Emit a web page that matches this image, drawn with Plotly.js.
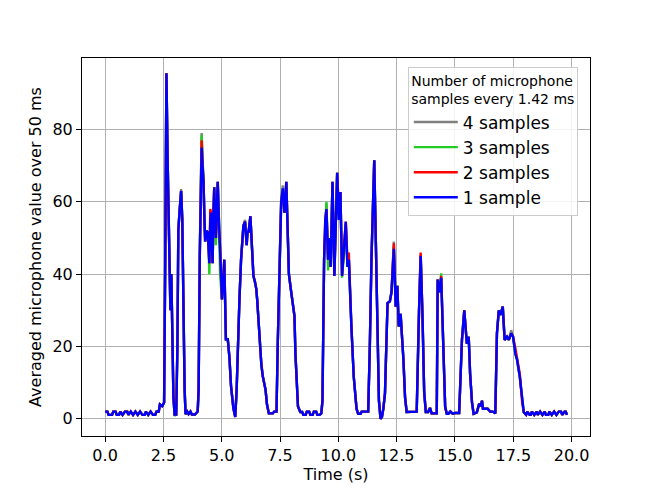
<!DOCTYPE html>
<html>
<head>
<meta charset="utf-8">
<script src="https://cdn.plot.ly/plotly-3.0.1.min.js"></script>
<style>html,body{margin:0;padding:0;background:#fff;}#chart{width:653px;height:490px;}</style>
</head>
<body>
<div id="chart"></div>
<script>
// Time (s) of each averaged sample
const time = [
0.00,0.10,0.15,0.30,0.35,0.45,0.50,0.60,0.65,0.75,
0.85,0.95,1.00,1.10,1.20,1.30,1.40,1.50,1.60,1.70,
1.75,1.85,1.95,2.05,2.15,2.20,2.30,2.35,2.45,2.53,
2.58,2.63,2.68,2.73,2.77,2.80,2.84,2.88,2.93,2.98,
3.05,3.10,3.14,3.20,3.26,3.31,3.36,3.41,3.45,3.52,
3.58,3.66,3.72,3.85,3.97,4.01,4.06,4.10,4.14,4.18,
4.22,4.26,4.29,4.34,4.40,4.44,4.47,4.51,4.54,4.58,
4.61,4.65,4.68,4.72,4.75,4.80,4.83,4.88,4.93,5.01,
5.07,5.11,5.18,5.26,5.33,5.40,5.50,5.58,5.64,5.69,
5.76,5.83,5.93,6.00,6.07,6.11,6.15,6.23,6.30,6.36,
6.42,6.48,6.52,6.62,6.70,6.76,6.82,6.88,6.94,7.02,
7.10,7.19,7.25,7.35,7.40,7.48,7.55,7.62,7.69,7.77,
7.82,7.88,7.98,8.06,8.12,8.16,8.20,8.27,8.37,8.45,
8.50,8.60,8.65,8.75,8.80,8.90,8.95,9.05,9.10,9.20,
9.27,9.32,9.39,9.44,9.49,9.56,9.63,9.67,9.75,9.83,
9.95,10.02,10.09,10.16,10.25,10.32,10.39,10.45,10.56,10.62,
10.66,10.78,10.85,10.95,11.00,11.10,11.20,11.28,11.35,11.42,
11.54,11.64,11.74,11.81,11.87,11.93,12.00,12.11,12.21,12.28,
12.38,12.46,12.53,12.59,12.67,12.79,12.86,12.93,13.05,13.15,
13.25,13.36,13.46,13.53,13.61,13.68,13.75,13.85,13.93,14.00,
14.10,14.22,14.26,14.34,14.41,14.48,14.58,14.65,14.72,14.80,
14.90,15.00,15.10,15.18,15.30,15.40,15.51,15.59,15.65,15.73,
15.80,15.94,16.04,16.10,16.16,16.20,16.30,16.40,16.51,16.62,
16.73,16.80,16.88,16.95,17.05,17.13,17.23,17.31,17.41,17.49,
17.59,17.66,17.78,17.88,17.95,18.05,18.10,18.20,18.25,18.30,
18.40,18.50,18.55,18.65,18.75,18.85,18.90,19.00,19.05,19.15,
19.25,19.35,19.45,19.55,19.60,19.70,19.75,19.80];

const samples4 = [
2.0,2.0,1.1,1.1,2.0,2.0,1.1,1.1,2.0,1.1,
2.0,2.0,1.1,2.0,1.1,2.0,1.1,2.0,1.1,1.1,
2.0,1.1,2.0,1.1,1.1,2.0,2.0,4.0,3.5,4.5,
45,95.5,72,50,41,31,40,25,6,1.2,
1.2,20,53,58,63.5,55,30,8,1.3,2.0,
1.3,2.0,1.2,1.2,2.0,8,46,70,79,71,
66,55,50,52,51.5,47,43,55,55,48,
44,58,64,55,50,60,65,55,47,33,
38,43,22,22,17,9,3,0.5,8,21,
33,44,53.4,55,48,52,51.5,56,45,39.5,
38,36,33,21,15,11.8,10,8,4,1.5,
1.5,1.5,2.0,2.0,20,45,61,64.5,57,65,
52,40,35,31,28.4,18,11,3.4,1.9,1.9,
1.1,1.1,2.0,2.0,1.1,1.1,2.0,2.0,1.1,1.1,
1.5,5,44,55,59.5,44,50,42,65,40,
68,57,62.7,40,48,54,43,44,25.6,18,
11.7,2.8,1.4,1.4,2.0,2.0,2.0,2.0,20,44,
71.5,35,5,0,0.5,2.8,7,32,32.5,35,
49,31,37,25.5,29,16.4,6,1.9,1.9,1.9,
1.9,2.0,30,45.5,28,7.4,1.9,1.9,3.0,1.5,
1.5,1.5,38.5,36.5,39,25.5,3.3,1.4,1.4,2.0,
1.4,1.6,1.6,1.6,21.8,30,20.8,22.7,12.5,4.6,
1.4,1.8,4.2,3.5,5,2.8,2.8,2.8,2,2,
1.5,23.6,30,28.7,31,21.8,22.7,22,24.5,22.7,
18,16.4,11.6,4.6,1.8,1.1,2.0,1.1,1.1,2.0,
1.1,2.0,1.1,2.0,1.1,2.0,1.1,1.1,2.0,1.1,
2.0,1.1,2.0,2.0,1.1,2.0,2.0,1.1];

const samples3 = [
2.0,2.0,1.1,1.1,2.0,2.0,1.1,1.1,2.0,1.1,
2.0,2.0,1.1,2.0,1.1,2.0,1.1,2.0,1.1,1.1,
2.0,1.1,2.0,1.1,1.1,2.0,2.0,4.0,3.5,4.5,
45,95.5,72,50,41,30,40,25,6,0.8,
1.2,20,52,58,63,55,30,8,1.3,2.0,
1.3,2.0,1.2,1.2,2.0,8,46,69,78.5,71,
66,55,49,52,51.5,46,40,54,56,45,
43,58,64,55,48,60,65.5,55,40,33,
38,44,22,22,17,9,3,0.5,8,21,
33,44,53.4,54.5,48,52,51.5,56,45,39.5,
38,36,33,21,15,11.8,10,8,4,1.5,
1.5,1.5,2.0,2.0,20,44,60,63.5,57,65.5,
52,40,35,31,28.4,18,11,3.4,1.9,1.9,
1.1,1.1,2.0,2.0,1.1,1.1,2.0,2.0,1.1,1.1,
1.5,5,44,55,60,41,50,42,65.5,39.5,
68,55,62.7,39,48,52,42,44,25.6,18,
11.7,2.8,1.4,1.4,2.0,2.0,2.0,2.0,20,44,
71.5,35,5,0,0.5,2.8,7,32,32.5,35,
47.5,31,36.7,25.5,29,16.4,6,1.9,1.9,1.9,
1.9,2.0,30,45,28,7.4,1.9,1.9,3.0,1.5,
1.5,1.5,38.5,35,40.2,25.5,3.3,1.4,1.4,2.0,
1.4,1.6,1.6,1.6,21.8,30,20.8,22.7,12.5,4.6,
1.4,1.8,4.2,3.5,5,2.8,2.8,2.8,2,2,
1.5,23.6,30,28.7,31,21.8,22.7,21.8,23.6,22.7,
18,16.4,11.6,4.6,1.8,1.1,2.0,1.1,1.1,2.0,
1.1,2.0,1.1,2.0,1.1,2.0,1.1,1.1,2.0,1.1,
2.0,1.1,2.0,2.0,1.1,2.0,2.0,1.5];

const samples2 = [
2.0,2.0,1.1,1.1,2.0,2.0,1.1,1.1,2.0,1.1,
2.0,2.0,1.1,2.0,1.1,2.0,1.1,2.0,1.1,1.1,
2.0,1.1,2.0,1.1,1.1,2.0,2.0,4.0,3.5,4.5,
45,95.5,72,50,41,30,40,25,6,1.2,
1.2,20,52,58,63,55,30,8,1.3,2.0,
1.3,2.0,1.2,1.2,2.0,8,45,68,77,70,
65.5,55,49,52,51.5,47,43,58,57,48,
43,58,64,55,50,60,65.5,52,48,33,
38,44,22,22,17,9,3,0.5,8,21,
33,44,53.4,54.5,48,52,51.5,56,45,39.5,
38,36,33,21,15,11.8,10,8,4,1.5,
1.5,1.5,2.0,2.0,20,44,60,63,57,65.5,
52,40,35,31,28.4,18,11,3.4,1.9,1.9,
1.1,1.1,2.0,2.0,1.1,1.1,2.0,2.0,1.1,1.1,
1.5,5,44,55,58,44,50,42,65.5,39.5,
68,58,62.7,39.5,48,54.5,44,46,25.6,18,
11.7,2.8,1.4,1.4,2.0,2.0,2.0,2.0,20,44,
71.5,35,5,0,0.5,2.8,7,32,32.5,35,
48.5,31,36.7,25.5,29,16.4,6,1.9,1.9,1.9,
1.9,2.0,30,46,28,7.4,1.9,1.9,3.0,1.5,
1.5,1.5,38.5,35,39.5,25.5,3.3,1.4,1.4,2.0,
1.4,1.6,1.6,1.6,21.8,30,20.8,22.7,12.5,4.6,
1.4,1.8,4.2,3.5,5,2.8,2.8,2.8,2,2,
1.5,23.6,30,28.7,31,21.8,22.7,21.8,23.6,22.7,
19.5,16.4,12.5,4.6,1.8,1.1,2.0,1.1,1.1,2.0,
1.1,2.0,1.1,2.0,1.1,2.0,1.1,1.1,2.0,1.1,
2.0,1.1,2.0,2.0,1.1,2.0,2.0,1.1];

const samples1 = [
2.0,2.0,1.1,1.1,2.0,2.0,1.1,1.1,2.0,1.1,
2.0,2.0,1.1,2.0,1.1,2.0,1.1,2.0,1.1,1.1,
2.0,1.1,2.0,1.1,1.1,2.0,2.0,4.0,3.5,4.5,
45,95.5,72,50,41,30,40,25,6,1.2,
1.2,20,52,58,63,55,30,8,1.3,2.0,
1.3,2.0,1.2,1.2,2.0,8,45,68,75,70,
65.5,55,49,52,51.5,47,43,55,57,48,
43,58,64,55,50,60,65.5,55,48,33,
38,44,22,22,17,9,3,0.5,8,21,
33,44,53.4,54.5,48,52,51.5,56,45,39.5,
38,36,33,21,15,11.8,10,8,4,1.5,
1.5,1.5,2.0,2.0,20,44,60,63.7,57,65.5,
52,40,35,31,28.4,18,11,3.4,1.9,1.9,
1.1,1.1,2.0,2.0,1.1,1.1,2.0,2.0,1.1,1.1,
1.5,5,44,55,58,44,50,42,65.5,39.5,
68,55,62.7,39.5,48,54.5,42,44,25.6,18,
11.7,2.8,1.4,1.4,2.0,2.0,2.0,2.0,20,44,
71.5,35,5,0,0.5,2.8,7,32,32.5,35,
47,31,36.7,25.5,29,16.4,6,1.9,1.9,1.9,
1.9,2.0,30,45,28,7.4,1.9,1.9,3.0,1.5,
1.5,1.5,38.5,35,39,25.5,3.3,1.4,1.4,2.0,
1.4,1.6,1.6,1.6,21.8,30,20.8,22.7,12.5,4.6,
1.4,1.8,4.2,3.5,5,2.8,2.8,2.8,2,2,
1.5,23.6,30,28.7,31,21.8,22.7,21.8,23.6,22.7,
18,16.4,11.6,4.6,1.8,1.1,2.0,1.1,1.1,2.0,
1.1,2.0,1.1,2.0,1.1,2.0,1.1,1.1,2.0,1.1,
2.0,1.1,2.0,2.0,1.1,2.0,2.0,1.1];

const seriesNames = ['4 samples', '3 samples', '2 samples', '1 sample'];
const seriesValues = [samples4, samples3, samples2, samples1];
const seriesColors = ['#808080', '#22cc22', '#ff0000', '#0000ff'];
const xTicks = [0, 2.5, 5, 7.5, 10, 12.5, 15, 17.5, 20];
const yTicks = [0, 20, 40, 60, 80];

const traces = seriesNames.map((name, i) => ({
  type: 'scatter',
  mode: 'lines',
  name: name,
  x: time,
  y: seriesValues[i],
  line: {color: seriesColors[i], width: 2.4},
  hoverinfo: 'skip'
}));

const axisCommon = {
  showline: true, mirror: true, linecolor: '#000', linewidth: 1,
  ticks: 'outside', ticklen: 5, tickwidth: 1, tickcolor: '#000',
  showgrid: true, gridcolor: '#b0b0b0', gridwidth: 1,
  zeroline: false, automargin: false,
  tickfont: {size: 16, color: '#000'}
};

const layout = {
  width: 653, height: 490,
  margin: {l: 82, r: 63, t: 58, b: 54},
  paper_bgcolor: '#fff', plot_bgcolor: '#fff',
  font: {family: 'DejaVu Sans, sans-serif', color: '#000', size: 16},
  showlegend: true,
  xaxis: Object.assign({}, axisCommon, {
    range: [-0.99, 20.79],
    tickmode: 'array', tickvals: xTicks,
    ticktext: xTicks.map(v => v.toFixed(1)),
    title: {text: 'Time (s)', font: {size: 16}, standoff: 3}
  }),
  yaxis: Object.assign({}, axisCommon, {
    range: [-4.75, 99.75],
    tickmode: 'array', tickvals: yTicks,
    ticktext: yTicks.map(v => String(v)),
    title: {text: 'Averaged microphone value over 50 ms', font: {size: 16}, standoff: 6}
  }),
  legend: {
    x: 0.976, y: 0.976, xanchor: 'right', yanchor: 'top',
    bgcolor: 'rgba(255,255,255,0.85)', bordercolor: '#cccccc', borderwidth: 1,
    font: {size: 17}, traceorder: 'normal', itemwidth: 44,
    title: {text: 'Number of microphone<br>samples every 1.42 ms', font: {size: 14}, side: 'top center'}
  }
};

Plotly.newPlot('chart', traces, layout, {displayModeBar: false, staticPlot: true});
</script>
</body>
</html>
